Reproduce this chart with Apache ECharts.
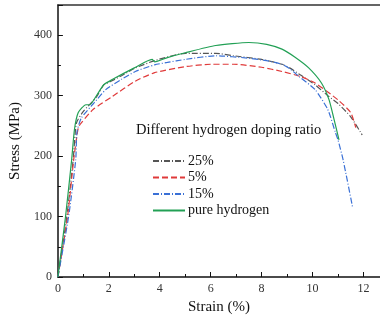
<!DOCTYPE html>
<html>
<head>
<meta charset="utf-8">
<script src="https://cdn.jsdelivr.net/npm/echarts@6/dist/echarts.min.js"></script>
<style>
  html, body { margin: 0; padding: 0; background: #fff; }
  #chart { width: 380px; height: 320px; }
</style>
</head>
<body>
<div id="chart"></div>
<script>
// strain (%) / stress (MPa)
const strain25 = [0, 0.35, 0.6, 0.73, 1.0, 1.5, 1.8, 1.96, 2.5, 3.0, 3.8, 5.0, 6.2, 6.9, 8.0, 8.8, 9.1, 9.5, 10.1, 10.6, 11.0, 11.5, 11.95];
const stress25 = [0, 100, 194, 255, 274, 297, 318, 321, 333, 345, 358, 370, 370, 366, 360, 352, 346, 335, 318, 300, 287, 265, 235];

const strain5 = [0, 0.38, 0.62, 0.8, 0.92, 1.38, 2.15, 3.04, 3.8, 5.0, 6.0, 6.9, 8.0, 8.8, 9.5, 10.1, 11.0, 11.5, 11.7];
const stress5 = [0, 100, 194, 247, 255, 277, 299, 324, 338, 348, 352, 352, 347, 340, 332, 321, 293, 272, 247];

const strain15 = [0, 0.42, 0.7, 0.75, 0.92, 1.42, 1.88, 2.5, 3.04, 3.8, 4.3, 5.0, 6.2, 7.5, 8.3, 8.8, 9.1, 9.46, 10.1, 10.6, 10.9, 11.0, 11.2, 11.57];
const stress15 = [0, 100, 194, 240, 263, 288, 310, 327, 340, 351, 355, 360, 366, 362, 357, 352, 345, 332, 310, 277, 239, 227, 194, 116];

const strainPure = [0, 0.3, 0.54, 0.65, 0.8, 1.1, 1.25, 1.5, 1.8, 2.15, 3.0, 3.7, 3.8, 4.3, 5.0, 6.2, 7.5, 8.2, 8.8, 9.3, 9.85, 10.35, 10.65, 10.85, 11.04];
const stressPure = [0, 100, 194, 244, 272, 285, 285, 299, 318, 327, 346, 360, 356, 363, 371, 383, 388, 385, 377, 364, 346, 321, 293, 260, 227];

const seriesNames = ["25%", "5%", "15%", "pure hydrogen"];

const font = "Liberation Serif";
const chart = echarts.init(document.getElementById("chart"));

function pairs(xs, ys) {
  return xs.map((x, i) => [x, ys[i]]);
}

function lineSeries(name, xs, ys, color, type) {
  return {
    name: name,
    type: "line",
    data: pairs(xs, ys),
    symbol: "none",
    smooth: 0.2,
    lineStyle: { color: color, width: 1.2, type: type },
    itemStyle: { color: color },
    z: 3
  };
}

chart.setOption({
  animation: false,
  grid: { left: 51, right: 0, top: 5, bottom: 43 },
  title: {
    text: "Different hydrogen doping ratio",
    left: 131,
    top: 118,
    textStyle: { fontFamily: font, fontSize: 14.5, fontWeight: "normal", color: "#111" }
  },
  legend: {
    orient: "vertical",
    left: 147,
    top: 148,
    itemWidth: 32,
    itemHeight: 10,
    itemGap: 0.5,
    data: seriesNames,
    itemStyle: { opacity: 0 },
    textStyle: { fontFamily: font, fontSize: 14, lineHeight: 16, color: "#111", padding: [0, 0, 0, -2] }
  },
  xAxis: [
    {
      type: "value",
      min: 0,
      max: 12.65,
      interval: 2,
      name: "Strain (%)",
      nameLocation: "middle",
      nameGap: 21,
      nameTextStyle: { fontFamily: font, fontSize: 15, color: "#111" },
      axisLine: { lineStyle: { color: "#111", width: 1.5 } },
      axisTick: { inside: true, length: 5, lineStyle: { color: "#111" } },
      minorTick: { show: true, splitNumber: 2, length: 3, lineStyle: { color: "#111" } },
      axisLabel: { fontFamily: font, fontSize: 12, color: "#333", margin: 6, showMaxLabel: false },
      splitLine: { show: false }
    },
    {
      type: "value",
      position: "top",
      min: 0,
      max: 12.65,
      axisLine: { show: true, lineStyle: { color: "#333", width: 1.5 } },
      axisTick: { show: false },
      axisLabel: { show: false },
      splitLine: { show: false }
    }
  ],
  yAxis: {
    type: "value",
    min: 0,
    max: 450,
    interval: 100,
    name: "Stress (MPa)",
    nameLocation: "middle",
    nameGap: 27,
    nameTextStyle: { fontFamily: font, fontSize: 15, color: "#111" },
    axisLine: { show: true, lineStyle: { color: "#111", width: 1.5 } },
    axisTick: { show: true, inside: true, length: 5, lineStyle: { color: "#111" } },
    minorTick: { show: true, splitNumber: 2, length: 3, lineStyle: { color: "#111" } },
    axisLabel: { fontFamily: font, fontSize: 12, color: "#333", margin: 6, showMaxLabel: false },
    splitLine: { show: false }
  },
  series: [
    lineSeries("25%", strain25, stress25, "#555555", [6, 2, 1, 2]),
    lineSeries("5%", strain5, stress5, "#e03a3a", [6, 3]),
    lineSeries("15%", strain15, stress15, "#3a70d6", [6, 2, 1, 2]),
    lineSeries("pure hydrogen", strainPure, stressPure, "#22a055", "solid")
  ]
});
</script>
</body>
</html>
